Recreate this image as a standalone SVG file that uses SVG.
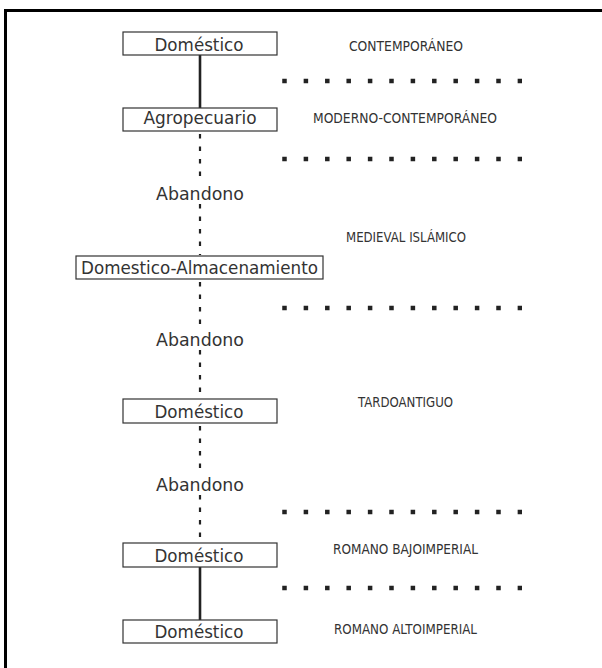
<svg xmlns="http://www.w3.org/2000/svg" width="602" height="668" viewBox="0 0 602 668">
<style>
.frame{fill:none;stroke:#000;stroke-width:3}
.box{fill:#fff;stroke:#333;stroke-width:1.2}
.node{font-family:"DejaVu Sans","Liberation Sans",sans-serif;font-size:17px;fill:#333;text-anchor:middle}
.per{font-family:"DejaVu Sans","Liberation Sans",sans-serif;font-size:13.5px;fill:#333}
.solid{stroke:#222;stroke-width:2.6;fill:none}
.dashv{stroke:#222;stroke-width:2.2;stroke-dasharray:4.5 8;fill:none}
.dots{stroke:#222;stroke-width:4.5;stroke-dasharray:4.5 16.9;fill:none}
</style>
<rect width="602" height="668" fill="#fff"/>
<path class="frame" d="M5.5 668 V10.5 H602"/>
<g id="connectors">
<line class="solid" x1="200" y1="55" x2="200" y2="108"/>
<line class="dashv" x1="200" y1="134" x2="200" y2="184"/>
<line class="dashv" x1="200" y1="204" x2="200" y2="255"/>
<line class="dashv" x1="200" y1="282" x2="200" y2="330"/>
<line class="dashv" x1="200" y1="350" x2="200" y2="399"/>
<line class="dashv" x1="200" y1="426" x2="200" y2="475"/>
<line class="dashv" x1="200" y1="495" x2="200" y2="543"/>
<line class="solid" x1="200" y1="567" x2="200" y2="620"/>
</g>
<g id="period-separators">
<line class="dots" x1="282.25" y1="81" x2="522" y2="81"/>
<line class="dots" x1="282.25" y1="159" x2="522" y2="159"/>
<line class="dots" x1="282.25" y1="308" x2="522" y2="308"/>
<line class="dots" x1="282.25" y1="512" x2="522" y2="512"/>
<line class="dots" x1="282.25" y1="588" x2="522" y2="588"/>
</g>
<g id="n1"><rect class="box" x="123" y="32" width="154" height="23"/><text class="node" x="199" y="51" textLength="89" lengthAdjust="spacingAndGlyphs">Doméstico</text></g>
<g id="n2"><rect class="box" x="123" y="108" width="154" height="23"/><text class="node" x="200" y="124" textLength="113" lengthAdjust="spacingAndGlyphs">Agropecuario</text></g>
<g id="a1"><text class="node" x="200" y="200" textLength="88" lengthAdjust="spacingAndGlyphs">Abandono</text></g>
<g id="n3"><rect class="box" x="76" y="256" width="247" height="23"/><text class="node" x="199.5" y="274" textLength="237" lengthAdjust="spacingAndGlyphs">Domestico-Almacenamiento</text></g>
<g id="a2"><text class="node" x="200" y="346" textLength="88" lengthAdjust="spacingAndGlyphs">Abandono</text></g>
<g id="n4"><rect class="box" x="123" y="399" width="154" height="24"/><text class="node" x="199" y="418" textLength="89" lengthAdjust="spacingAndGlyphs">Doméstico</text></g>
<g id="a3"><text class="node" x="200" y="491" textLength="88" lengthAdjust="spacingAndGlyphs">Abandono</text></g>
<g id="n5"><rect class="box" x="123" y="543" width="154" height="24"/><text class="node" x="199" y="562" textLength="89" lengthAdjust="spacingAndGlyphs">Doméstico</text></g>
<g id="n6"><rect class="box" x="123" y="620" width="154" height="23"/><text class="node" x="199" y="638" textLength="89" lengthAdjust="spacingAndGlyphs">Doméstico</text></g>
<g id="periods">
<text class="per" x="349" y="51" textLength="114" lengthAdjust="spacingAndGlyphs">CONTEMPORÁNEO</text>
<text class="per" x="313" y="123" textLength="184" lengthAdjust="spacingAndGlyphs">MODERNO-CONTEMPORÁNEO</text>
<text class="per" x="346" y="242" textLength="120" lengthAdjust="spacingAndGlyphs">MEDIEVAL ISLÁMICO</text>
<text class="per" x="358" y="407" textLength="95" lengthAdjust="spacingAndGlyphs">TARDOANTIGUO</text>
<text class="per" x="333" y="554" textLength="145" lengthAdjust="spacingAndGlyphs">ROMANO BAJOIMPERIAL</text>
<text class="per" x="334" y="634" textLength="143" lengthAdjust="spacingAndGlyphs">ROMANO ALTOIMPERIAL</text>
</g>
</svg>
